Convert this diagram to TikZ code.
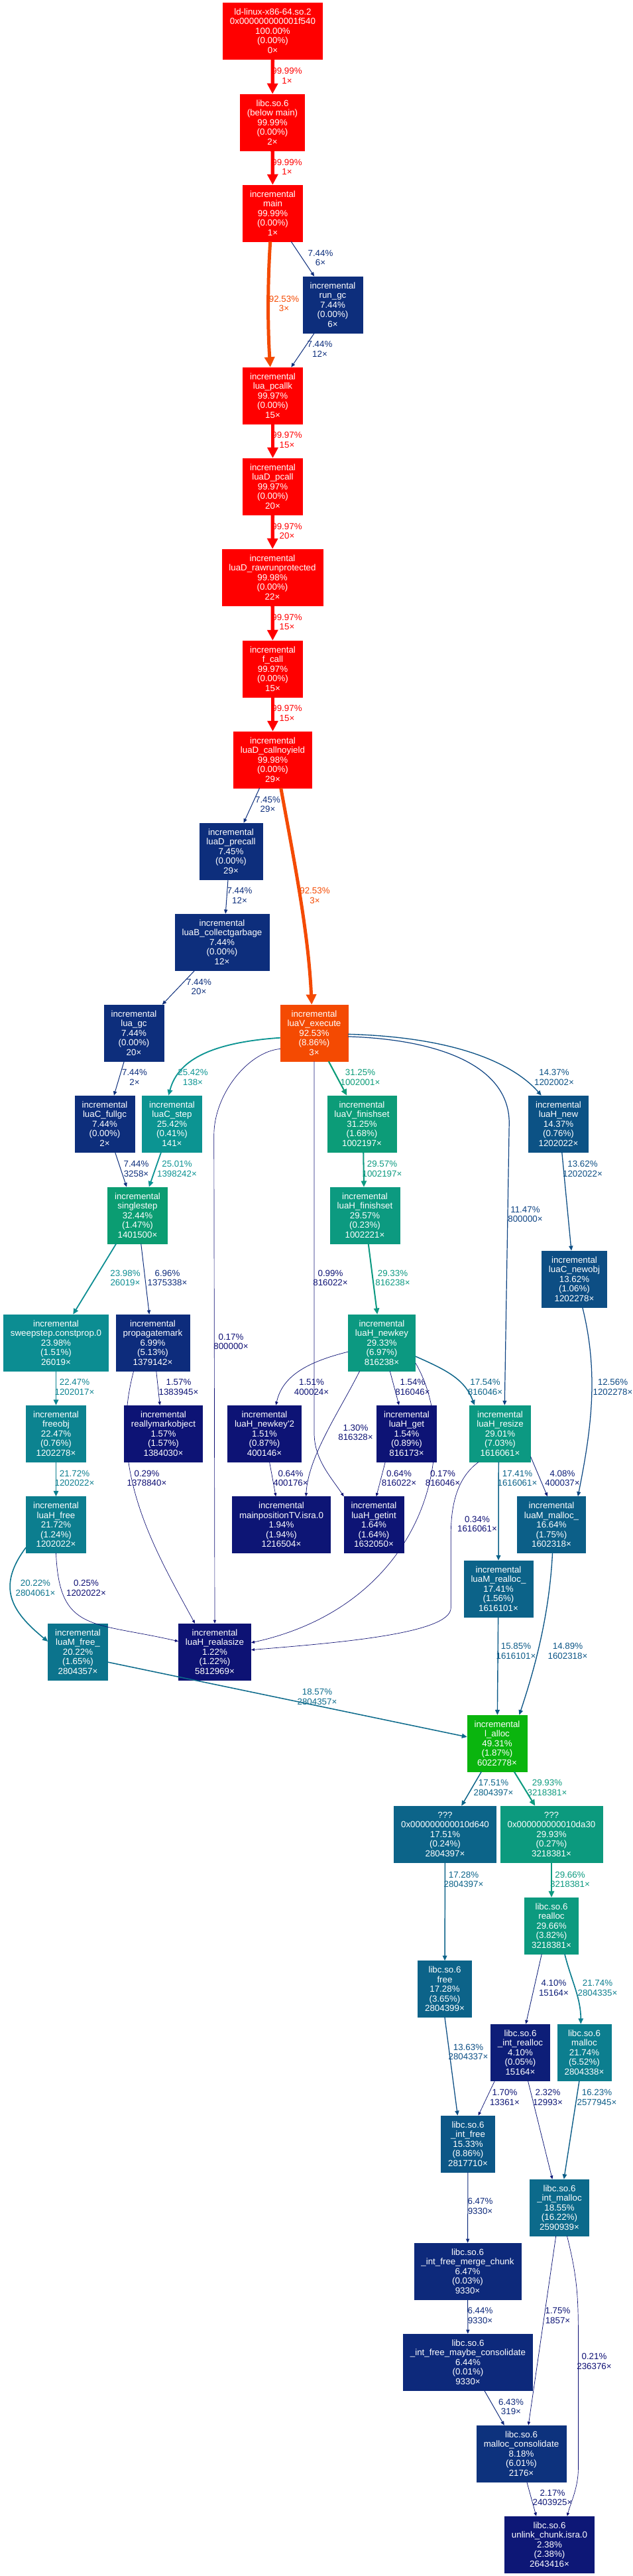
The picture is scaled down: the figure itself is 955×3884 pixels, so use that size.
\documentclass[tikz,border=0pt]{standalone}
\usepackage{fontspec}
\setmainfont{Liberation Sans}
\usepackage{tikz}
\usetikzlibrary{arrows.meta}

\tikzset{
  heat/.code={%
    \pgfmathsetmacro\heatH{2/3*(1-#1/100)}%
    \pgfmathsetmacro\heatS{0.8+0.2*#1/100}%
    \pgfmathsetmacro\heatL{0.25+0.25*#1/100}%
    \pgfmathsetmacro\heatB{\heatL*(1+\heatS)}%
    \pgfmathsetmacro\heatSv{2*\heatS/(1+\heatS)}%
    \definecolor{heattmp}{hsb}{\heatH,\heatSv,\heatB}%
    \colorlet{heatc}[rgb]{heattmp}},
  fn/.style={heat=#1, rectangle, fill=heatc, draw=heatc, text=white, align=center,
    minimum height=63.75pt, inner xsep=7.92pt, inner ysep=0pt,
    font=\fontsize{10}{10.9}\selectfont},
  call/.code={%
    \pgfmathsetmacro\callW{0.5+3.5*#1/100}%
    \pgfmathsetmacro\callA{0.5*sqrt(\callW)}%
    \pgfmathsetmacro\callL{10*\callA+0.5*\callW}%
    \pgfmathsetmacro\callT{7*\callA+1.2*\callW}%
    \edef\callTip{-{Triangle[length=\callL pt,width=\callT pt]}}%
    \pgfkeysalso{heat=#1, draw=heatc, line width=\callW pt}%
    \expandafter\pgfkeysalso\expandafter{\callTip}},
  cnt/.style={heat=#1, text=heatc, align=center, inner sep=0pt,
    font=\fontsize{10}{10.9}\selectfont}
}
\newcommand\fnlabel[5]{#1\\#2\\#3\%\\(#4\%)\\#5×}

\begin{document}
\begin{tikzpicture}[x=0.75pt,y=-0.75pt]
  \useasboundingbox (0,0) rectangle (955,3884);
  \node[fn=100] (ldso) at (411.5,46.5) {\fnlabel{ld-linux-x86-64.so.2}{0x000000000001f540}{100.00}{0.00}{0}};
  \node[fn=99.99] (belowmain) at (411,184.5) {\fnlabel{libc.so.6}{(below main)}{99.99}{0.00}{2}};
  \node[fn=99.99] (main) at (411.5,321.5) {\fnlabel{incremental}{main}{99.99}{0.00}{1}};
  \node[fn=7.44] (rungc) at (502,459.5) {\fnlabel{incremental}{run\_gc}{7.44}{0.00}{6}};
  \node[fn=99.97] (pcallk) at (411.5,596.5) {\fnlabel{incremental}{lua\_pcallk}{99.97}{0.00}{15}};
  \node[fn=99.97] (dpcall) at (411.5,733.5) {\fnlabel{incremental}{luaD\_pcall}{99.97}{0.00}{20}};
  \node[fn=99.98] (rawrun) at (411,870.5) {\fnlabel{incremental}{luaD\_rawrunprotected}{99.98}{0.00}{22}};
  \node[fn=99.97] (fcall) at (411.5,1008.5) {\fnlabel{incremental}{f\_call}{99.97}{0.00}{15}};
  \node[fn=99.98] (callny) at (411.5,1145.5) {\fnlabel{incremental}{luaD\_callnoyield}{99.98}{0.00}{29}};
  \node[fn=7.45] (precall) at (348.5,1283.5) {\fnlabel{incremental}{luaD\_precall}{7.45}{0.00}{29}};
  \node[fn=7.44] (collect) at (335,1420.5) {\fnlabel{incremental}{luaB\_collectgarbage}{7.44}{0.00}{12}};
  \node[fn=7.44] (luagc) at (202,1557.5) {\fnlabel{incremental}{lua\_gc}{7.44}{0.00}{20}};
  \node[fn=92.53] (execute) at (474,1557.5) {\fnlabel{incremental}{luaV\_execute}{92.53}{8.86}{3}};
  \node[fn=7.44] (fullgc) at (158,1694.5) {\fnlabel{incremental}{luaC\_fullgc}{7.44}{0.00}{2}};
  \node[fn=25.42] (cstep) at (259.5,1694.5) {\fnlabel{incremental}{luaC\_step}{25.42}{0.41}{141}};
  \node[fn=31.25] (vfinish) at (546,1694.5) {\fnlabel{incremental}{luaV\_finishset}{31.25}{1.68}{1002197}};
  \node[fn=14.37] (hnew) at (842.5,1694.5) {\fnlabel{incremental}{luaH\_new}{14.37}{0.76}{1202022}};
  \node[fn=32.44] (single) at (207.5,1832.5) {\fnlabel{incremental}{singlestep}{32.44}{1.47}{1401500}};
  \node[fn=29.57] (hfinish) at (550.5,1832.5) {\fnlabel{incremental}{luaH\_finishset}{29.57}{0.23}{1002221}};
  \node[fn=13.62] (newobj) at (866.5,1928.5) {\fnlabel{incremental}{luaC\_newobj}{13.62}{1.06}{1202278}};
  \node[fn=23.98] (sweep) at (84.5,2024.5) {\fnlabel{incremental}{sweepstep.constprop.0}{23.98}{1.51}{26019}};
  \node[fn=6.99] (propmark) at (230.5,2024.5) {\fnlabel{incremental}{propagatemark}{6.99}{5.13}{1379142}};
  \node[fn=29.33] (newkey) at (576,2024.5) {\fnlabel{incremental}{luaH\_newkey}{29.33}{6.97}{816238}};
  \node[fn=22.47] (freeobj) at (84.5,2161.5) {\fnlabel{incremental}{freeobj}{22.47}{0.76}{1202278}};
  \node[fn=1.57] (reallymark) at (246.5,2161.5) {\fnlabel{incremental}{reallymarkobject}{1.57}{1.57}{1384030}};
  \node[fn=1.51] (newkeyb) at (399,2161.5) {\fnlabel{incremental}{luaH\_newkey\textquotesingle2}{1.51}{0.87}{400146}};
  \node[fn=1.54] (hget) at (613.5,2161.5) {\fnlabel{incremental}{luaH\_get}{1.54}{0.89}{816173}};
  \node[fn=29.01] (resize) at (754.5,2161.5) {\fnlabel{incremental}{luaH\_resize}{29.01}{7.03}{1616061}};
  \node[fn=21.72] (hfree) at (84.5,2299) {\fnlabel{incremental}{luaH\_free}{21.72}{1.24}{1202022}};
  \node[fn=1.94] (mainpos) at (424.5,2299) {\fnlabel{incremental}{mainpositionTV.isra.0}{1.94}{1.94}{1216504}};
  \node[fn=1.64] (getint) at (564,2299) {\fnlabel{incremental}{luaH\_getint}{1.64}{1.64}{1632050}};
  \node[fn=16.64] (mmalloc) at (832,2299) {\fnlabel{incremental}{luaM\_malloc\_}{16.64}{1.75}{1602318}};
  \node[fn=17.41] (mrealloc) at (752,2395.5) {\fnlabel{incremental}{luaM\_realloc\_}{17.41}{1.56}{1616101}};
  \node[fn=20.22] (mfree) at (117.5,2490.5) {\fnlabel{incremental}{luaM\_free\_}{20.22}{1.65}{2804357}};
  \node[fn=1.22] (realasize) at (324,2490.5) {\fnlabel{incremental}{luaH\_realasize}{1.22}{1.22}{5812969}};
  \node[fn=49.31] (lalloc) at (750,2628.5) {\fnlabel{incremental}{l\_alloc}{49.31}{1.87}{6022778}};
  \node[fn=17.51] (qfree) at (671.5,2765.5) {\fnlabel{???}{0x000000000010d640}{17.51}{0.24}{2804397}};
  \node[fn=29.93] (qrealloc) at (832,2765.5) {\fnlabel{???}{0x000000000010da30}{29.93}{0.27}{3218381}};
  \node[fn=29.66] (realloc) at (832,2903.5) {\fnlabel{libc.so.6}{realloc}{29.66}{3.82}{3218381}};
  \node[fn=17.28] (lfree) at (671,2999) {\fnlabel{libc.so.6}{free}{17.28}{3.65}{2804399}};
  \node[fn=4.10] (intrealloc) at (785,3094.5) {\fnlabel{libc.so.6}{\_int\_realloc}{4.10}{0.05}{15164}};
  \node[fn=21.74] (malloc) at (881.5,3094.5) {\fnlabel{libc.so.6}{malloc}{21.74}{5.52}{2804338}};
  \node[fn=15.33] (intfree) at (706,3232.5) {\fnlabel{libc.so.6}{\_int\_free}{15.33}{8.86}{2817710}};
  \node[fn=18.55] (intmalloc) at (844,3328.5) {\fnlabel{libc.so.6}{\_int\_malloc}{18.55}{16.22}{2590939}};
  \node[fn=6.47] (merge) at (705.5,3424.5) {\fnlabel{libc.so.6}{\_int\_free\_merge\_chunk}{6.47}{0.03}{9330}};
  \node[fn=6.44] (maybe) at (706,3561.5) {\fnlabel{libc.so.6}{\_int\_free\_maybe\_consolidate}{6.44}{0.01}{9330}};
  \node[fn=8.18] (mconsol) at (786.5,3699.5) {\fnlabel{libc.so.6}{malloc\_consolidate}{8.18}{6.01}{2176}};
  \node[fn=2.38] (unlink) at (829,3836.5) {\fnlabel{libc.so.6}{unlink\_chunk.isra.0}{2.38}{2.38}{2643416}};

  \draw[call=99.99] (ldso) -- (belowmain);
  \node[cnt=99.99] (c1) at (433,114.5) {99.99\%\\1×};
  \draw[call=99.99] (belowmain) -- (main);
  \node[cnt=99.99] (c2) at (433,252) {99.99\%\\1×};
  \draw[call=92.53] (main.-95) .. controls +(-4,60) and +(-4,-60) .. (pcallk.95);
  \node[cnt=92.53] (c3) at (428.5,458) {92.53\%\\3×};
  \draw[call=7.44] (main.-57) -- (rungc.123);
  \node[cnt=7.44] (c4) at (483.5,389) {7.44\%\\6×};
  \draw[call=7.44] (rungc.-123) -- (pcallk.57);
  \node[cnt=7.44] (c5) at (482.5,526.5) {7.44\%\\12×};
  \draw[call=99.97] (pcallk) -- (dpcall);
  \node[cnt=99.97] (c6) at (433,663.5) {99.97\%\\15×};
  \draw[call=99.97] (dpcall) -- (rawrun);
  \node[cnt=99.97] (c7) at (433,801) {99.97\%\\20×};
  \draw[call=99.97] (rawrun) -- (fcall);
  \node[cnt=99.97] (c8) at (433,938) {99.97\%\\15×};
  \draw[call=99.97] (fcall) -- (callny);
  \node[cnt=99.97] (c9) at (433,1075.5) {99.97\%\\15×};
  \draw[call=7.45] (callny.-115) -- (precall.66);
  \node[cnt=7.45] (c10) at (404,1213) {7.45\%\\29×};
  \draw[call=92.53] (callny.-74) .. controls +(20,110) and +(-5,-110) .. (execute.95);
  \node[cnt=92.53] (c11) at (475,1350.5) {92.53\%\\3×};
  \draw[call=7.44] (precall.-96) -- (collect.83);
  \node[cnt=7.44] (c12) at (361.5,1350.5) {7.44\%\\12×};
  \draw[call=7.44] (collect.-134) -- (luagc.45);
  \node[cnt=7.44] (c13) at (300,1488) {7.44\%\\20×};
  \draw[call=7.44] (luagc.-109) -- (fullgc.72);
  \node[cnt=7.44] (c14) at (203,1624.5) {7.44\%\\2×};
  \draw[call=25.42] (execute.188) .. controls +(-120,8) and +(12,-45) .. (cstep.97);
  \node[cnt=25.42] (c15) at (291,1624.5) {25.42\%\\138×};
  \draw[call=31.25] (execute.-63) -- (vfinish.118);
  \node[cnt=31.25] (c16) at (543.5,1624.5) {31.25\%\\1002001×};
  \draw[call=14.37] (execute.-2) .. controls +(180,5) and +(-35,-40) .. (hnew.121);
  \node[cnt=14.37] (c17) at (836,1624.5) {14.37\%\\1202002×};
  \draw[call=11.47] (execute.-6) .. controls +(150,5) and +(0,-80) .. ++(243,130) -- (resize.81);
  \node[cnt=11.47] (c18) at (792.5,1831) {11.47\%\\800000×};
  \draw[call=0.99] (execute.south) -- ++(0,560) .. controls +(0,40) and +(-20,-30) .. (getint.north west);
  \node[cnt=0.99] (c19) at (498.5,1927) {0.99\%\\816022×};
  \draw[call=0.17] (execute.205) .. controls +(-50,5) and +(0,-60) .. ++(-100,130) -- (realasize.north);
  \node[cnt=0.17] (c20) at (348.5,2023) {0.17\%\\800000×};
  \draw[call=7.44] (fullgc.-70) -- (single.111);
  \node[cnt=7.44] (c22) at (205.5,1762.5) {7.44\%\\3258×};
  \draw[call=25.01] (cstep.-111) -- (single.68);
  \node[cnt=25.01] (c23) at (267,1762.5) {25.01\%\\1398242×};
  \draw[call=29.57] (vfinish.-87) -- (hfinish.92);
  \node[cnt=29.57] (c24) at (576.5,1762.5) {29.57\%\\1002197×};
  \draw[call=13.62] (hnew.-83) -- (newobj.96);
  \node[cnt=13.62] (c25) at (879,1762.5) {13.62\%\\1202022×};
  \draw[call=23.98] (single.-127) -- (sweep.59);
  \node[cnt=23.98] (c26) at (189,1927) {23.98\%\\26019×};
  \draw[call=6.96] (single.-83) -- (propmark.97);
  \node[cnt=6.96] (c27) at (252.5,1927) {6.96\%\\1375338×};
  \draw[call=29.33] (hfinish.-83) -- (newkey.99);
  \node[cnt=29.33] (c28) at (592.5,1927) {29.33\%\\816238×};
  \draw[call=12.56] (newobj.-74) .. controls +(25,100) and +(20,-100) .. (mmalloc.47);
  \node[cnt=12.56] (c29) at (924.5,2091.5) {12.56\%\\1202278×};
  \draw[call=22.47] (sweep) -- (freeobj);
  \node[cnt=22.47] (c30) at (112.5,2091.5) {22.47\%\\1202017×};
  \draw[call=1.57] (propmark.-83) -- (reallymark.97);
  \node[cnt=1.57] (c31) at (269.5,2091.5) {1.57\%\\1383945×};
  \draw[call=0.29] (propmark.-124) .. controls +(-40,150) and +(-60,-110) .. (realasize.125);
  \node[cnt=0.29] (c32) at (221.5,2229) {0.29\%\\1378840×};
  \draw[call=1.51] (newkey.195) .. controls +(-60,15) and +(10,-45) .. (newkeyb.68);
  \node[cnt=1.51] (c33) at (470,2091.5) {1.51\%\\400024×};
  \draw[call=1.30] (newkey.-128) .. controls +(-30,60) and +(3,-60) .. (mainpos.49);
  \node[cnt=1.30] (c34) at (536.5,2160) {1.30\%\\816328×};
  \draw[call=1.54] (newkey.-74) -- (hget.105);
  \node[cnt=1.54] (c35) at (622.5,2091.5) {1.54\%\\816046×};
  \draw[call=17.54] (newkey.-22) .. controls +(45,20) and +(-15,-40) .. (resize.132);
  \node[cnt=17.54] (c36) at (732,2091.5) {17.54\%\\816046×};
  \draw[call=0.17] (newkey.-31) .. controls +(73,125) and +(261,-57) .. (realasize.14);
  \node[cnt=0.17] (c37) at (668,2229) {0.17\%\\816046×};
  \draw[call=0.64] (newkeyb.-80) -- (mainpos.101);
  \node[cnt=0.64] (c38) at (438.5,2229) {0.64\%\\400176×};
  \draw[call=0.64] (hget.-127) -- (getint.85);
  \node[cnt=0.64] (c39) at (602,2229) {0.64\%\\816022×};
  \draw[call=17.41] (resize.-93) -- (mrealloc.north);
  \node[cnt=17.41] (c40) at (780.5,2229) {17.41\%\\1616061×};
  \draw[call=4.08] (resize.-37) -- (mmalloc.98);
  \node[cnt=4.08] (c41) at (848.5,2229) {4.08\%\\400037×};
  \draw[call=0.34] (resize.-127) .. controls +(-35,25) and +(0,-40) .. ++(-42,110) -- ++(0,110) .. controls +(0,40) and +(120,-10) .. (realasize.3);
  \node[cnt=0.34] (c42) at (720,2298) {0.34\%\\1616061×};
  \draw[call=21.72] (freeobj) -- (hfree);
  \node[cnt=21.72] (c43) at (112.5,2229) {21.72\%\\1202022×};
  \draw[call=20.22] (hfree.-143) .. controls +(-45,60) and +(-55,-45) .. (mfree.161);
  \node[cnt=20.22] (c44) at (53.5,2394.5) {20.22\%\\2804061×};
  \draw[call=0.25] (hfree.south) .. controls +(5,120) and +(-130,-30) .. (realasize.164);
  \node[cnt=0.25] (c45) at (130,2394.5) {0.25\%\\1202022×};
  \draw[call=18.57] (mfree.-19) -- (lalloc.168);
  \node[cnt=18.57] (c46) at (478.5,2558.5) {18.57\%\\2804357×};
  \draw[call=15.85] (mrealloc) -- (lalloc);
  \node[cnt=15.85] (c47) at (778.5,2489.5) {15.85\%\\1616101×};
  \draw[call=14.89] (mmalloc.-88) .. controls +(-5,100) and +(20,-60) .. (lalloc.52);
  \node[cnt=14.89] (c48) at (856.5,2489.5) {14.89\%\\1602318×};
  \draw[call=17.51] (lalloc.-119) -- (qfree.60);
  \node[cnt=17.51] (c49) at (744.5,2695.5) {17.51\%\\2804397×};
  \draw[call=29.93] (lalloc.-59) -- (qrealloc.120);
  \node[cnt=29.93] (c50) at (825.5,2695.5) {29.93\%\\3218381×};
  \draw[call=17.28] (qfree) -- (lfree);
  \node[cnt=17.28] (c51) at (699.5,2834) {17.28\%\\2804397×};
  \draw[call=29.66] (qrealloc) -- (realloc);
  \node[cnt=29.66] (c52) at (860,2834) {29.66\%\\3218381×};
  \draw[call=4.10] (realloc.-109) -- (intrealloc.79);
  \node[cnt=4.10] (c53) at (835.5,2997.5) {4.10\%\\15164×};
  \draw[call=21.74] (realloc.-65) .. controls +(10,40) and +(0,-40) .. (malloc.97);
  \node[cnt=21.74] (c54) at (901.5,2997.5) {21.74\%\\2804335×};
  \draw[call=13.63] (lfree.south) -- (intfree.110);
  \node[cnt=13.63] (c55) at (706.5,3094) {13.63\%\\2804337×};
  \draw[call=1.70] (intrealloc.-132) -- (intfree.70);
  \node[cnt=1.70] (c56) at (761.5,3162.5) {1.70\%\\13361×};
  \draw[call=2.32] (intrealloc.-75) -- (intmalloc.104);
  \node[cnt=2.32] (c57) at (826.5,3162.5) {2.32\%\\12993×};
  \draw[call=16.23] (malloc.-100) -- (intmalloc.81);
  \node[cnt=16.23] (c58) at (900.5,3162.5) {16.23\%\\2577945×};
  \draw[call=6.47] (intfree) -- (merge);
  \node[cnt=6.47] (c59) at (724.5,3326.5) {6.47\%\\9330×};
  \draw[call=6.44] (merge) -- (maybe);
  \node[cnt=6.44] (c60) at (724.5,3491.5) {6.44\%\\9330×};
  \draw[call=6.43] (maybe.-60) -- (mconsol.121);
  \node[cnt=6.43] (c61) at (771,3629) {6.43\%\\319×};
  \draw[call=1.75] (intmalloc.-97) -- (mconsol.76);
  \node[cnt=1.75] (c62) at (841.5,3491.5) {1.75\%\\1857×};
  \draw[call=0.21] (intmalloc.-75) .. controls +(15,60) and +(0,-60) .. ++(17,150) -- ++(0,200) .. controls +(0,30) and +(5,-20) .. (unlink.58);
  \node[cnt=0.21] (c63) at (896.5,3560.5) {0.21\%\\236376×};
  \draw[call=2.17] (mconsol.-79) -- (unlink.115);
  \node[cnt=2.17] (c64) at (833.5,3766) {2.17\%\\2403925×};
\end{tikzpicture}
\end{document}
